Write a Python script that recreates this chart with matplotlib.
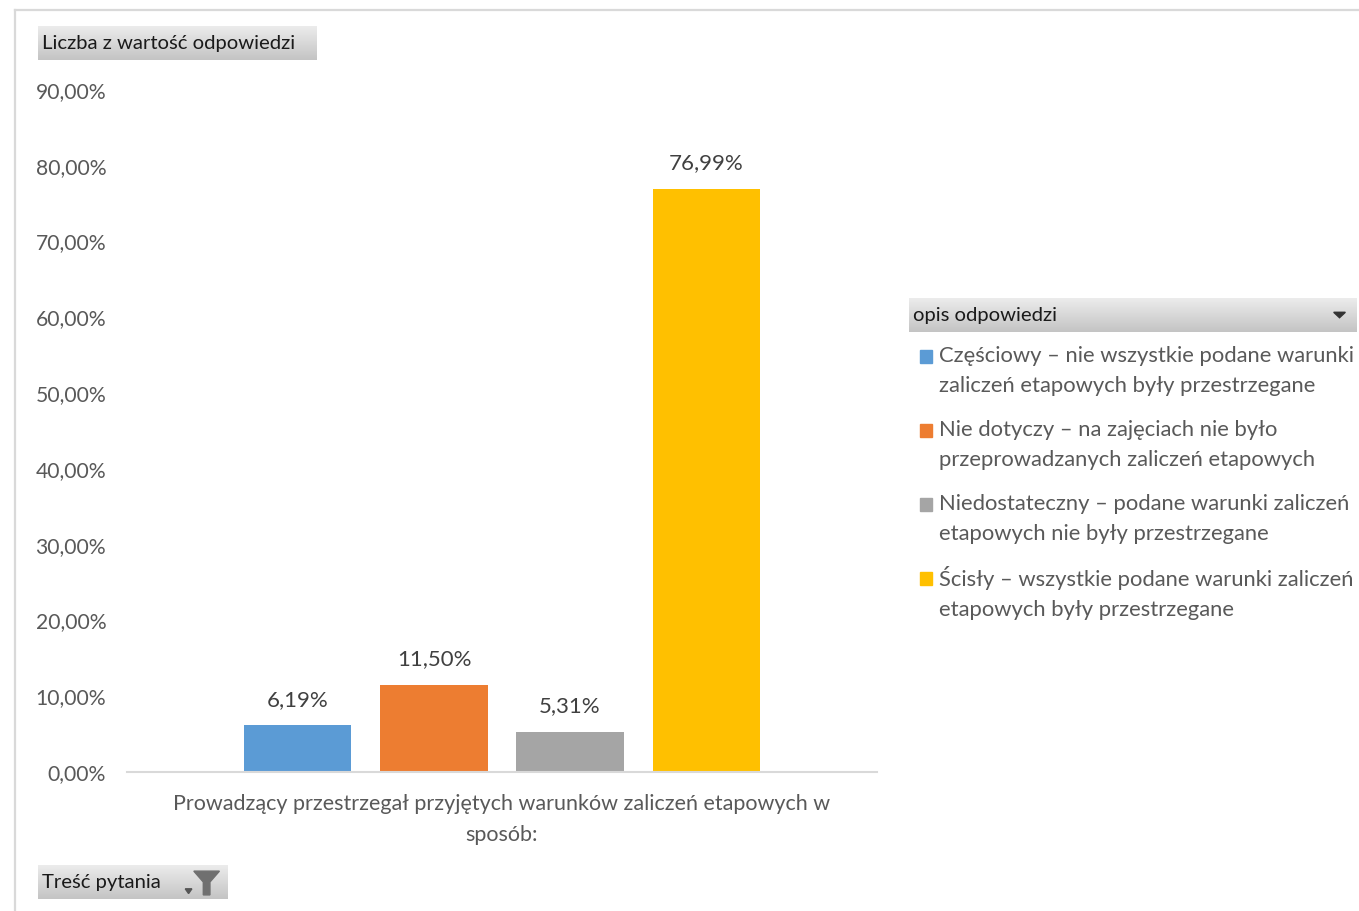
import numpy as np
import matplotlib
matplotlib.use("Agg")
from matplotlib import pyplot as plt
from matplotlib.patches import Rectangle, Polygon
from matplotlib.lines import Line2D
from matplotlib.colors import LinearSegmentedColormap

# dane
kategorie = [
    'Częściowy – nie wszystkie podane warunki\nzaliczeń etapowych były przestrzegane',
    'Nie dotyczy – na zajęciach nie było\nprzeprowadzanych zaliczeń etapowych',
    'Niedostateczny – podane warunki zaliczeń\netapowych nie były przestrzegane',
    'Ścisły – wszystkie podane warunki zaliczeń\netapowych były przestrzegane',
]
wartosci = [6.19, 11.50, 5.31, 76.99]
kolory = ['#5B9BD5', '#ED7D31', '#A5A5A5', '#FFC000']
pytanie = 'Prowadzący przestrzegał przyjętych warunków zaliczeń etapowych w\nsposób:'
yticks = np.arange(0, 91, 10)

W, H = 1359, 911
plt.rcParams['font.family'] = ['Lato', 'DejaVu Sans']

fig = plt.figure(figsize=(W / 100, H / 100), dpi=100)
fig.patch.set_facecolor('white')

def px(x0, y0, x1, y1):
    return [x0 / W, 1 - y1 / H, (x1 - x0) / W, (y1 - y0) / H]

# ramka wykresu
fig.add_artist(Line2D([15 / W, 1], [1 - 10 / H] * 2, color='#d9d9d9', lw=1.6))
fig.add_artist(Line2D([15 / W] * 2, [0, 1 - 10 / H], color='#d9d9d9', lw=1.6))

ax = fig.add_axes(px(127, 90, 877, 772))
pos = np.arange(len(wartosci)) - 1.5
bars = ax.bar(pos, wartosci, width=0.787, color=kolory)
for b, v in zip(bars, wartosci):
    ax.annotate(f'{v:.2f}%'.replace('.', ','), (b.get_x() + b.get_width() / 2, v),
                xytext=(0, 11), textcoords='offset points', ha='center', va='bottom',
                fontsize=16, color='#404040')

ax.set_xlim(-2.757, 2.757)
ax.set_ylim(0, 90)
ax.set_yticks(yticks)
ax.set_yticklabels([f'{t:.2f}%'.replace('.', ',') for t in yticks])
ax.set_xticks([0])
ax.set_xticklabels([pytanie], linespacing=1.68, fontsize=15.5)
ax.tick_params(axis='both', length=0, labelcolor='#595959')
ax.tick_params(axis='y', pad=15, labelsize=15.2)
ax.tick_params(axis='x', pad=16)
for s in ['top', 'right', 'left']:
    ax.spines[s].set_visible(False)
ax.spines['bottom'].set_color('#d9d9d9')
ax.spines['bottom'].set_linewidth(1.5)

grad = LinearSegmentedColormap.from_list('btn', ['#ececec', '#c4c4c4'])

def przycisk(box, tekst):
    bax = fig.add_axes(px(*box))
    bax.imshow(np.linspace(0, 1, 64).reshape(-1, 1), aspect='auto', cmap=grad,
               extent=(0, 1, 0, 1), origin='upper')
    bax.set_xlim(0, 1)
    bax.set_ylim(0, 1)
    bax.axis('off')
    bax.text(4 / (box[2] - box[0]), 0.48, tekst, fontsize=14.6, color='#1a1a1a',
             va='center', ha='left', transform=bax.transAxes)
    return bax

przycisk((38, 26, 317, 60), 'Liczba z wartość odpowiedzi')
lax = przycisk((909, 298, 1357, 332), 'opis odpowiedzi')
lax.add_patch(Polygon([[0.948, 0.58], [0.974, 0.58], [0.961, 0.42]], color='#333333'))
tax = przycisk((38, 865, 228, 899), 'Treść pytania')
tax.add_patch(Polygon([[0.775, 0.3], [0.81, 0.3], [0.7925, 0.16]], color='#555555'))
tax.add_patch(Polygon([[0.82, 0.82], [0.955, 0.82], [0.905, 0.5], [0.905, 0.12],
                       [0.87, 0.12], [0.87, 0.5]], color='#707070'))

# legenda
for i, (k, c) in enumerate(zip(kategorie, kolory)):
    y = 356 + i * 74
    fig.add_artist(Rectangle((920 / W, 1 - (y + 7) / H), 12 / W, 13 / H, color=c,
                             transform=fig.transFigure))
    fig.text(939 / W, 1 - (y + 15) / H, k, fontsize=15.8, color='#595959',
             va='center', ha='left', linespacing=1.66)

fig.savefig('out.png', dpi=100)
